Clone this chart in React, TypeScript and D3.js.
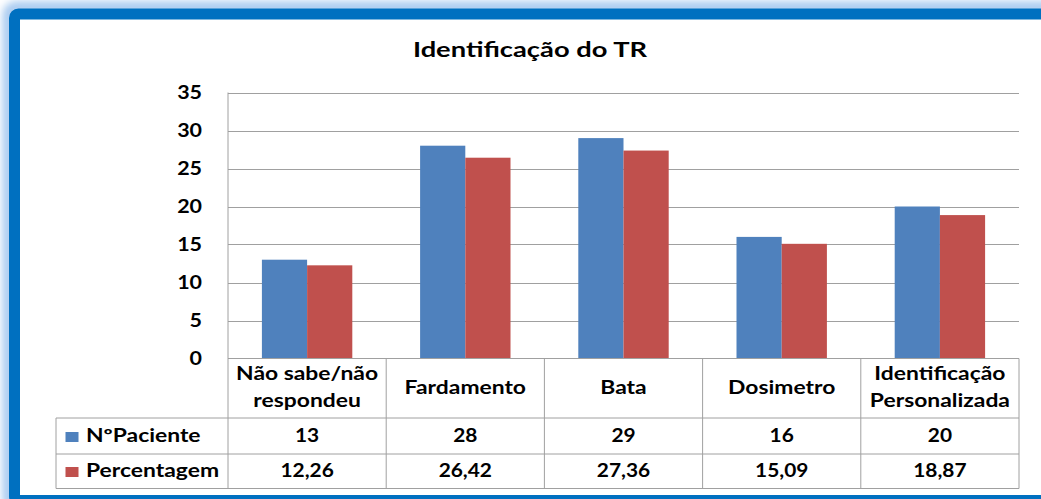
import React from "react";
import * as d3 from "d3";

const title = "Identificação do TR";
const categories = ["Não sabe/não respondeu", "Fardamento", "Bata", "Dosimetro", "Identificação Personalizada"];
const categoryLines = [["Não sabe/não", "respondeu"], ["Fardamento"], ["Bata"], ["Dosimetro"], ["Identificação", "Personalizada"]];
const seriesNames = ["NºPaciente", "Percentagem"];
const pacientes = [13, 28, 29, 16, 20];
const percentagem = [12.26, 26.42, 27.36, 15.09, 18.87];
const percentLabels = ["12,26", "26,42", "27,36", "15,09", "18,87"];
const yTicks = [0, 5, 10, 15, 20, 25, 30, 35];
const colors = ["#4F81BD", "#C0504D"];

const font = "Lato, 'Open Sans', sans-serif";

function T(props: { x: number; y: number; s: string; size: number; sx: number; anchor?: "start" | "middle" | "end" }) {
  return (
    <text
      transform={`translate(${props.x},${props.y}) scale(${props.sx},1)`}
      textAnchor={props.anchor || "start"}
      fontFamily={font}
      fontWeight="bold"
      fontSize={props.size}
      fill="#000"
    >
      {props.s}
    </text>
  );
}

export default function App() {
  const W = 1041, H = 499;
  const left = 228, right = 1019, top = 92.5, bottom = 358.5;
  const legendLeft = 56;
  const rowCat = 418, rowP = 454, rowEnd = 488.5;
  const WS = 1.27, NS = 1.16;

  const x = d3.scaleBand<string>().domain(categories).range([left, right]).paddingInner(0).paddingOuter(0);
  const bw = x.bandwidth();
  const barW = bw / 3.5;
  const xs = d3.scaleBand<string>().domain(seriesNames).range([(bw - 2 * barW) / 2, (bw + 2 * barW) / 2]);
  const y = d3.scaleLinear().domain([0, 35]).range([bottom, top]);
  const series = [pacientes, percentagem];
  const grid = "#A0A0A0";

  return (
    <div style={{ position: "absolute", left: 0, top: 0, width: W, height: H, overflow: "hidden" }}>
      <svg width={W} height={H} style={{ display: "block" }}>
        <defs>
          <filter id="glow" x="-5%" y="-5%" width="110%" height="110%">
            <feGaussianBlur stdDeviation="4" />
          </filter>
        </defs>
        <rect x={0} y={0} width={W} height={H} fill="#ffffff" />
        <rect x={8} y={7} width={1100} height={500} rx={8} fill="none" stroke="#9CC3EE" strokeWidth={10} filter="url(#glow)" />
        <rect x={14.5} y={14} width={1100} height={486.5} rx={4} fill="#ffffff" stroke="#0070C0" strokeWidth={11} />

        <T x={530} y={57} s={title} size={21.5} sx={WS} anchor="middle" />

        {yTicks.map((t) => (
          <g key={t}>
            {t > 0 && <line x1={left} x2={right} y1={Math.round(y(t)) + 0.5} y2={Math.round(y(t)) + 0.5} stroke={grid} strokeWidth={1} />}
            <T x={202} y={y(t) + 6.5} s={String(t)} size={18.5} sx={NS} anchor="end" />
          </g>
        ))}

        {categories.map((c, i) => (
          <g key={c}>
            {series.map((s, j) => (
              <rect key={j} x={(x(c) as number) + (xs(seriesNames[j]) as number)} y={y(s[i])} width={xs.bandwidth()} height={bottom - y(s[i])} fill={colors[j]} />
            ))}
          </g>
        ))}

        <line x1={left} x2={left} y1={top} y2={rowEnd} stroke={grid} />
        <line x1={left} x2={right} y1={bottom} y2={bottom} stroke={grid} />
        <line x1={legendLeft} x2={right} y1={rowCat} y2={rowCat} stroke={grid} />
        <line x1={legendLeft} x2={right} y1={rowP} y2={rowP} stroke={grid} />
        <line x1={legendLeft} x2={right} y1={rowEnd} y2={rowEnd} stroke={grid} />
        <line x1={legendLeft} x2={legendLeft} y1={rowCat} y2={rowEnd} stroke={grid} />
        {categories.map((c) => (
          <line key={c} x1={(x(c) as number) + bw} x2={(x(c) as number) + bw} y1={bottom} y2={rowEnd} stroke={grid} />
        ))}

        {categories.map((c, i) => {
          const cx = (x(c) as number) + bw / 2;
          const lines = categoryLines[i];
          const baseY = lines.length === 2 ? 380 : 393.5;
          return (
            <g key={c}>
              {lines.map((l, k) => (
                <T key={k} x={cx} y={baseY + k * 26.5} s={l} size={18} sx={WS} anchor="middle" />
              ))}
              <T x={cx} y={442} s={String(pacientes[i])} size={18} sx={NS} anchor="middle" />
              <T x={cx} y={477} s={percentLabels[i]} size={18} sx={NS} anchor="middle" />
            </g>
          );
        })}

        {seriesNames.map((n, j) => {
          const yy = j === 0 ? 442 : 477;
          return (
            <g key={n}>
              <rect x={65.5} y={yy - 10} width={13} height={10} fill={colors[j]} />
              <T x={86} y={yy} s={n} size={18} sx={WS} />
            </g>
          );
        })}
      </svg>
    </div>
  );
}
